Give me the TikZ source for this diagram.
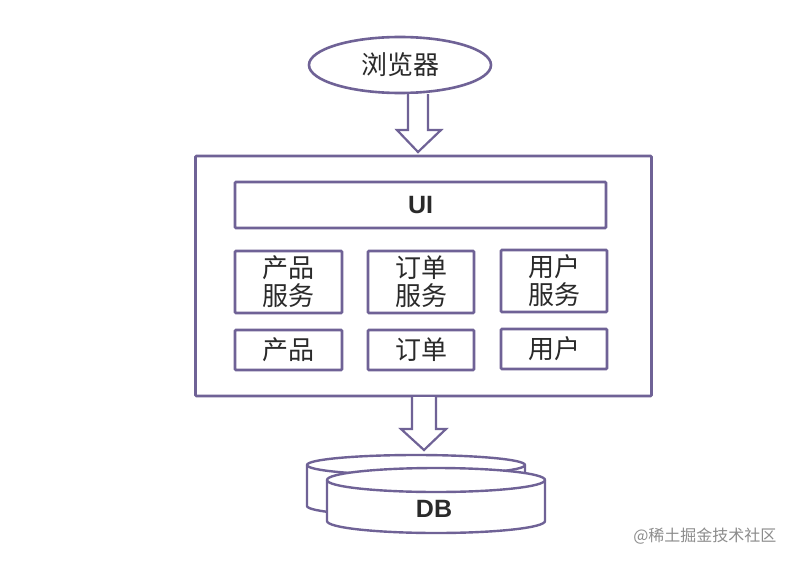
\documentclass[tikz,border=0pt]{standalone}
\usepackage{fontspec}
\setmainfont{Liberation Sans}
\newfontfamily\cjk{Noto Sans CJK SC}
\usetikzlibrary{shapes.geometric}
\definecolor{edge}{HTML}{6F6296}
\definecolor{ink}{HTML}{2A2A2A}
\begin{document}
\begin{tikzpicture}[x=1pt,y=-1pt,
  box/.style={draw=edge,line width=2.6pt,fill=white,rounded corners=1pt},
  lbl/.style={text=ink,font=\cjk\fontsize{26}{28}\selectfont,align=center},
  fat/.style={draw=edge,line width=2.2pt,fill=white,line join=miter}]
\useasboundingbox (0,0) rectangle (795,562);
\fill[white] (0,0) rectangle (795,562);
% browser
\node[ellipse,draw=edge,line width=2.6pt,minimum width=182pt,minimum height=56pt,inner sep=0pt,lbl] (br) at (400,65) {浏览器};
% arrow 1
\draw[fat] (408,94) -- (408,130) -- (397,130) -- (418,152) -- (441,130) -- (428,130) -- (428,94);
% outer box
\node[box,minimum width=456pt,minimum height=240pt,inner sep=0pt] (outer) at (423.5,276) {};
\node[box,minimum width=371pt,minimum height=46pt,inner sep=0pt,text=ink,font=\bfseries\fontsize{25}{27}\selectfont] (ui) at (420.5,205) {UI};
\node[box,minimum width=107pt,minimum height=62pt,inner sep=0pt,lbl] (ps) at (288.5,282) {产品\\服务};
\node[box,minimum width=106pt,minimum height=62pt,inner sep=0pt,lbl] (os) at (421,282) {订单\\服务};
\node[box,minimum width=106pt,minimum height=62pt,inner sep=0pt,lbl] (us) at (554,281) {用户\\服务};
\node[box,minimum width=107pt,minimum height=40pt,inner sep=0pt,lbl] (p) at (288.5,350) {产品};
\node[box,minimum width=106pt,minimum height=40pt,inner sep=0pt,lbl] (o) at (421,350) {订单};
\node[box,minimum width=106pt,minimum height=40pt,inner sep=0pt,lbl] (u) at (554,349) {用户};
% arrow 2
\draw[fat] (412,397) -- (412,429) -- (401,429) -- (424,450) -- (446,429) -- (436,429) -- (436,397);
% DB back cylinder
\draw[draw=edge,line width=2.4pt,fill=white] (307,465) -- (307,506) arc[start angle=180,end angle=0,x radius=109,y radius=10] -- (525,465) arc[start angle=0,end angle=-180,x radius=109,y radius=10] -- cycle;
\draw[draw=edge,line width=2.4pt] (307,465) arc[start angle=180,end angle=0,x radius=109,y radius=10];
% DB front cylinder
\draw[draw=edge,line width=2.4pt,fill=white] (327,480) -- (327,521) arc[start angle=180,end angle=0,x radius=109,y radius=12] -- (545,480) arc[start angle=0,end angle=-180,x radius=109,y radius=12] -- cycle;
\draw[draw=edge,line width=2.4pt] (327,480) arc[start angle=180,end angle=0,x radius=109,y radius=12];
\node[text=ink,font=\bfseries\fontsize{25}{27}\selectfont] (db) at (434,509) {DB};
% watermark
\node[text=black!45,font=\cjk\fontsize{16}{18}\selectfont,anchor=east] (wm) at (780,536) {@稀土掘金技术社区};
\end{tikzpicture}
\end{document}
